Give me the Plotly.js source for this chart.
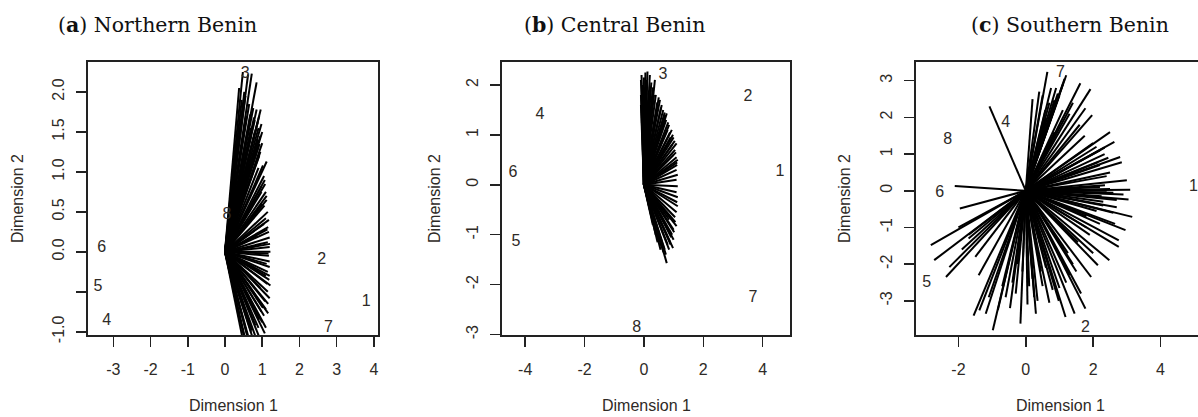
<!DOCTYPE html>
<html>
<head>
<meta charset="utf-8">
<script src="https://cdn.plot.ly/plotly-3.0.1.min.js"></script>
<style>html,body{margin:0;padding:0;overflow:hidden;background:#fff}</style>
</head>
<body>
<div id="chart" style="width:1215px;height:417px"></div>
<script>
// ---------- data ----------
var panelTitles = ["(<b>a</b>) Northern Benin", "(<b>b</b>) Central Benin", "(<b>c</b>) Southern Benin"];

// (a) Northern Benin
var aLabels = ["1","2","3","4","5","6","7","8"];
var aLabelX = [3.79, 2.60, 0.54, -3.18, -3.41, -3.31, 2.78, 0.05];
var aLabelY = [-0.63, -0.10, 2.22, -0.87, -0.44, 0.05, -0.95, 0.46];
var aEndX = [0.38,0.48,0.62,0.72,0.85,0.55,0.65,0.76,0.85,0.96,0.92,0.98,0.90,1.00,0.95,0.88,1.00,0.82,0.95,1.12,
             0.90,1.05,1.07,0.98,1.10,1.12,1.00,0.90,1.15,1.10,1.16,1.18,1.20,1.15,1.20,1.22,1.18,1.20,1.20,1.15,
             1.19,1.22,1.15,1.20,1.16,1.10,1.16,1.05,1.00,1.10,1.07,0.95,0.85,0.76,0.65,0.55,0.48,0.60,0.70,0.90,
             0.70,0.80,0.75,0.60,1.05,0.85,1.10,0.95,0.45,0.52,0.58,0.68,0.78,0.88,0.93,0.70,0.80,0.92,1.02,1.08,
             1.12,1.18,1.14,1.21,1.17,1.12,1.08,1.02,0.98,0.92,0.82,0.72,0.62,0.52,1.14,1.20,1.06,0.98];
var aEndY = [2.05,2.25,2.22,2.23,2.12,1.95,1.85,1.80,1.78,1.78,1.70,1.60,1.55,1.50,1.45,1.40,1.36,1.30,1.25,1.13,
             1.05,0.95,0.90,0.82,0.75,0.65,0.60,0.55,0.50,0.42,0.31,0.25,0.18,0.12,0.06,0.00,-0.05,-0.12,-0.19,-0.25,
             -0.35,-0.42,-0.50,-0.58,-0.65,-0.72,-0.77,-0.80,-0.88,-0.95,-1.02,-1.10,-1.10,-1.10,-1.10,-1.10,-1.10,-1.05,-1.00,-0.95,
             1.55,1.65,1.20,1.00,0.35,0.20,-0.30,-0.45,1.90,2.00,1.70,1.72,1.68,1.62,1.35,1.45,1.50,1.20,1.08,0.85,
             0.70,0.40,0.28,0.10,-0.02,-0.15,-0.62,-0.70,-0.75,-0.85,-0.92,-0.98,-1.08,-1.08,-0.40,-0.30,0.58,0.75];

// (b) Central Benin
var bLabels = ["1","2","3","4","5","6","7","8"];
var bLabelX = [4.58, 3.50, 0.64, -3.50, -4.31, -4.41, 3.67, -0.24];
var bLabelY = [0.26, 1.76, 2.20, 1.40, -1.14, 0.24, -2.26, -2.86];
var bEndX = [-0.10,-0.08,-0.05,0.00,0.05,0.12,0.10,0.20,0.25,0.30,0.37,0.40,0.50,0.54,0.60,0.65,0.70,0.77,0.75,0.85,
             0.80,0.94,0.90,1.00,1.10,0.95,1.05,1.10,1.14,1.12,1.10,1.14,1.10,1.14,1.10,1.14,1.12,1.14,1.10,1.05,
             1.10,1.00,0.95,1.00,0.98,0.90,0.85,0.77,0.70,0.60,0.50,0.40,0.30,-0.10,-0.10,0.15,0.45,0.65,0.85,1.00,
             -0.06,0.02,0.08,0.16,0.22,0.28,0.34,0.45,0.58,0.68,0.72,0.82,0.88,0.98,1.04,1.08,1.12,1.06,1.02,0.92,
             0.88,0.80,0.74,0.66,0.56,0.46,-0.04,0.04];
var bEndY = [2.10,2.20,1.90,2.15,2.25,2.27,2.00,2.20,2.05,1.95,2.10,1.80,1.75,1.70,1.60,1.50,1.45,1.43,1.30,1.20,
             1.10,1.10,0.95,0.95,0.83,0.80,0.70,0.55,0.50,0.40,0.30,0.20,0.10,-0.03,-0.15,-0.25,-0.35,-0.43,-0.55,-0.65,
             -0.83,-0.90,-1.00,-1.10,-1.27,-1.20,-1.30,-1.57,-1.30,-1.25,-1.10,-1.00,-0.80,1.60,1.80,1.70,1.50,1.20,-0.70,0.60,
             2.00,1.95,2.10,1.85,1.90,1.75,1.80,1.65,1.55,1.35,1.40,1.25,1.05,1.00,0.88,0.65,0.45,-0.75,-0.95,-1.05,
             -1.15,-1.20,-1.40,-1.35,-1.30,-1.15,1.40,1.20];

// (c) Southern Benin
var cLabels = ["1","2","4","5","6","7","8"];
var cLabelX = [4.98, 1.77, -0.60, -2.94, -2.56, 1.03, -2.32];
var cLabelY = [0.10, -3.75, 1.85, -2.52, -0.05, 3.21, 1.38];
var cEndX = [0.64,1.20,1.62,1.92,1.77,1.97,1.10,0.85,0.58,1.00,1.40,2.50,2.63,2.34,2.34,2.80,2.85,2.15,2.40,2.20,
             3.00,3.10,3.05,2.40,2.60,2.70,2.30,3.16,2.96,2.76,2.76,2.48,2.14,1.94,1.64,1.77,1.45,1.18,0.98,0.70,
             0.30,0.05,-0.16,-0.47,-0.98,-0.83,-1.19,-1.38,-1.55,-2.37,-2.27,-2.72,-2.82,-1.90,-1.96,-2.11,-1.08,0.40,0.20,0.90,
             1.30,1.60,2.00,2.20,2.50,2.60,2.20,1.90,1.50,1.20,0.80,0.50,0.20,-0.30,-0.60,-1.70,-2.00,-1.50,0.60,1.10,
             2.00,1.80,2.30,1.40,0.75,0.95,1.15,0.70,0.50,1.75,2.10,2.45,2.20,2.35,2.25,2.50,2.70,2.10,1.80,1.30,
             1.00,0.45,0.25,0.10,0.35,0.60,-0.10,-0.40,-0.70,-1.10,-1.40,-1.70,1.55,1.25,2.65,2.90,0.85,-0.25];
var cEndY = [3.24,3.15,2.93,2.77,2.25,2.06,2.90,2.47,2.20,2.60,2.40,1.60,1.33,1.18,1.00,0.92,0.78,0.78,0.40,0.10,
             0.29,0.03,-0.24,0.00,-0.05,-0.25,-0.30,-0.71,-1.07,-1.35,-1.53,-1.89,-2.03,-2.35,-2.80,-3.21,-3.35,-3.44,-3.00,-3.05,
             -3.35,-3.10,-3.62,-3.20,-3.80,-3.25,-3.35,-3.26,-3.40,-2.35,-2.08,-1.89,-1.48,-1.60,-0.48,0.13,2.30,2.70,2.50,2.80,
             2.10,1.80,1.30,1.10,0.50,-0.60,-0.90,-1.20,-2.20,-2.50,-2.70,-2.60,-2.40,-2.80,-2.90,-1.30,-1.00,-1.80,2.00,2.20,
             -1.70,-1.00,-0.40,-2.00,2.80,2.65,3.05,2.40,2.60,1.50,1.20,0.90,0.70,0.15,-0.15,0.05,-0.45,-0.55,-0.70,-2.30,
             -2.65,-2.20,-2.90,-2.60,-3.00,-2.10,-2.20,-2.50,-2.60,-2.90,-2.30,-1.20,-1.40,-1.70,-0.90,-0.10,1.60,-2.00];

var aXTicks = [-3,-2,-1,0,1,2,3,4];
var aYTicks = [-1,-0.5,0,0.5,1,1.5,2];
var aYTickText = ["-1.0","","0.0","0.5","1.0","1.5","2.0"];
var bXTicks = [-4,-2,0,2,4];
var bYTicks = [-3,-2,-1,0,1,2];
var cXTicks = [-2,0,2,4];
var cYTicks = [-3,-2,-1,0,1,2,3];

// ---------- layout helpers ----------
var W = 1215, H = 417;
function fx(px){ return px / W; }
function fy(py){ return 1 - py / H; }

function fan(xs, ys){
  var X = [], Y = [];
  for (var i = 0; i < xs.length; i++){ X.push(0, xs[i], null); Y.push(0, ys[i], null); }
  return {x: X, y: Y};
}

var txtColor = "#2e2a26";
var tickFont = {family: "Liberation Sans, Arial, sans-serif", size: 16, color: txtColor};

function segTrace(xs, ys, ax){
  var f = fan(xs, ys);
  return {x: f.x, y: f.y, mode: "lines", type: "scatter", line: {color: "#000", width: 2},
          xaxis: "x" + ax, yaxis: "y" + ax, hoverinfo: "skip", showlegend: false};
}
function labTrace(labels, xs, ys, ax){
  return {x: xs, y: ys, text: labels, mode: "text", type: "scatter",
          textfont: {family: "Liberation Sans, Arial, sans-serif", size: 16, color: txtColor},
          xaxis: "x" + ax, yaxis: "y" + ax, showlegend: false, hoverinfo: "skip"};
}

var traces = [
  segTrace(aEndX, aEndY, ""), labTrace(aLabels, aLabelX, aLabelY, ""),
  segTrace(bEndX, bEndY, "2"), labTrace(bLabels, bLabelX, bLabelY, "2"),
  segTrace(cEndX, cEndY, "3"), labTrace(cLabels, cLabelX, cLabelY, "3")
];

function xAxis(l, r, range, ticks, anchor){
  return {domain: [fx(l), fx(r)], range: range, tickvals: ticks, ticktext: ticks.map(String),
          showgrid: false, zeroline: false, showline: true, mirror: true, linecolor: "#222", linewidth: 1.6,
          ticks: "outside", ticklen: 10, tickwidth: 1.5, tickcolor: "#222", tickfont: tickFont,
          ticklabelstandoff: 9, anchor: anchor, fixedrange: true};
}
function yAxis(range, ticks, text, anchor){
  return {domain: [fy(335), fy(62)], range: range, tickvals: ticks, ticktext: text,
          showgrid: false, zeroline: false, showline: true, mirror: true, linecolor: "#222", linewidth: 1.6,
          ticks: "outside", ticklen: 10, tickwidth: 1.5, tickcolor: "#222", tickfont: tickFont,
          tickangle: -90, ticklabelstandoff: 6, anchor: anchor, fixedrange: true};
}

var ann = [];
var titleX = [157, 614, 1070];
for (var i = 0; i < 3; i++){
  ann.push({text: panelTitles[i], xref: "paper", yref: "paper", x: fx(titleX[i]), y: fy(25),
            xanchor: "center", yanchor: "middle", showarrow: false,
            font: {family: "DejaVu Serif, serif", size: 20.5, color: "#111"}});
}
var boxL = [88, 502, 916], boxR = [378, 790, 1205], yTitleX = [18, 435, 845];
for (var j = 0; j < 3; j++){
  ann.push({text: "Dimension 1", xref: "paper", yref: "paper", x: fx((boxL[j] + boxR[j]) / 2), y: fy(405),
            xanchor: "center", yanchor: "middle", showarrow: false, font: tickFont});
  ann.push({text: "Dimension 2", xref: "paper", yref: "paper", x: fx(yTitleX[j]), y: fy(199),
            xanchor: "center", yanchor: "middle", textangle: -90, showarrow: false, font: tickFont});
}

var layout = {
  width: W, height: H, margin: {l: 0, r: 0, t: 0, b: 0},
  paper_bgcolor: "#fff", plot_bgcolor: "#fff", showlegend: false,
  xaxis: xAxis(88, 378, [-3.68, 4.11], aXTicks, "y"),
  yaxis: yAxis([-1.04, 2.375], aYTicks, aYTickText, "x"),
  xaxis2: xAxis(502, 790, [-4.78, 4.92], bXTicks, "y2"),
  yaxis2: yAxis([-3.01, 2.46], bYTicks, bYTicks.map(String), "x2"),
  xaxis3: xAxis(916, 1205, [-3.26, 5.32], cXTicks, "y3"),
  yaxis3: yAxis([-3.93, 3.51], cYTicks, cYTicks.map(String), "x3"),
  annotations: ann
};

Plotly.newPlot("chart", traces, layout, {staticPlot: true, displayModeBar: false});
</script>
</body>
</html>
